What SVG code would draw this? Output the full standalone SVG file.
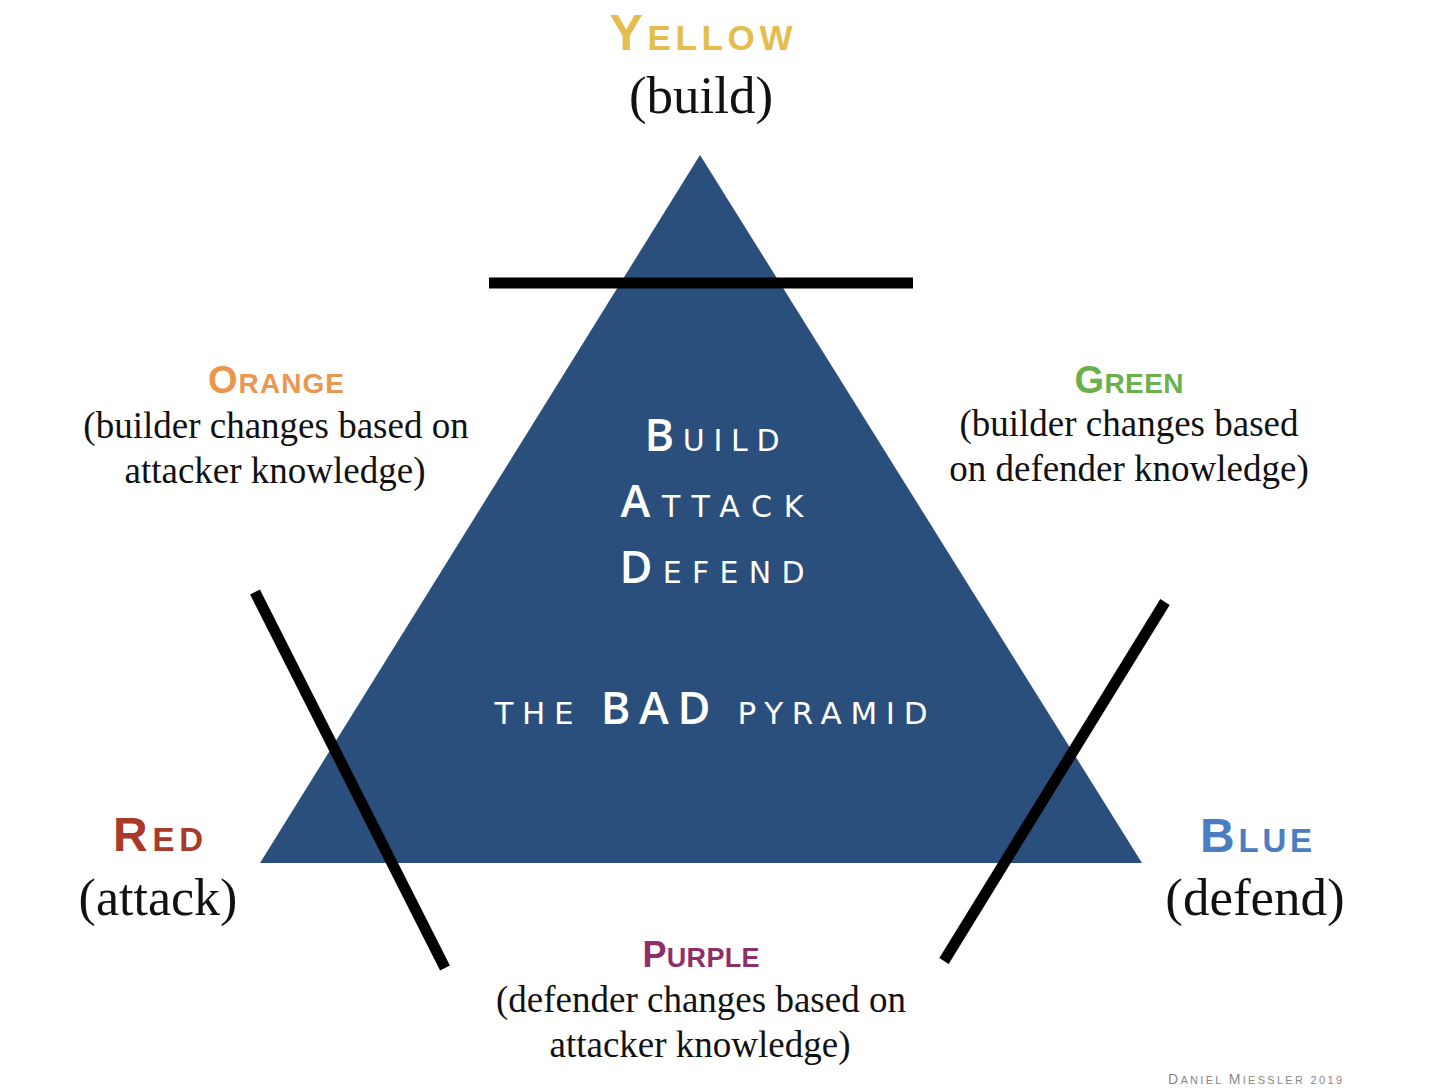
<svg xmlns="http://www.w3.org/2000/svg" width="1434" height="1088" viewBox="0 0 1434 1088">
<style>
.cap{font-family:"Liberation Sans",Arial,sans-serif;font-weight:700;text-anchor:middle}
.ser{font-family:"Liberation Serif","DejaVu Serif",serif;fill:#111;text-anchor:middle}
.in{font-family:"DejaVu Sans","Liberation Sans",sans-serif;fill:#fff;text-anchor:middle}
.ini{font-family:"Open Sans","DejaVu Sans",sans-serif;font-weight:600}
.bar{stroke:#000;stroke-width:11;stroke-linecap:butt;fill:none}
</style>
<rect width="1434" height="1088" fill="#fff"/>
<g id="pyramid">
<polygon points="700,155 1142,863 260,863" fill="#2b4f7d"/>
<text class="in" x="712" y="451" textLength="135" lengthAdjust="spacing"><tspan class="ini" font-size="45">B</tspan><tspan font-size="30">UILD</tspan></text>
<text class="in" x="712" y="517" textLength="183" lengthAdjust="spacing"><tspan class="ini" font-size="45">A</tspan><tspan font-size="30">TTACK</tspan></text>
<text class="in" x="712" y="583" textLength="185" lengthAdjust="spacing"><tspan class="ini" font-size="45">D</tspan><tspan font-size="30">EFEND</tspan></text>
<text class="in" x="711" y="724" textLength="433" lengthAdjust="spacing"><tspan font-size="31">THE </tspan><tspan class="ini" font-size="45" font-weight="700">BAD</tspan><tspan font-size="31"> PYRAMID</tspan></text>
</g>
<g id="connectors">
<line class="bar" x1="489" y1="283" x2="913" y2="283" stroke-width="10"/>
<line class="bar" x1="255" y1="592" x2="445" y2="968"/>
<line class="bar" x1="1165" y1="602" x2="944" y2="961"/>
</g>
<g id="yellow">
<text class="cap" x="701" y="50" fill="#e5bd4e" textLength="183" lengthAdjust="spacing"><tspan font-size="50">Y</tspan><tspan font-size="35">ELLOW</tspan></text>
<text class="ser" x="701" y="113" font-size="53">(build)</text>
</g>
<g id="orange">
<text class="cap" x="276" y="393" fill="#e9974c" textLength="136" lengthAdjust="spacing"><tspan font-size="38">O</tspan><tspan font-size="28">RANGE</tspan></text>
<text class="ser" x="276" y="438" font-size="37">(builder changes based on</text>
<text class="ser" x="275" y="483" font-size="37">attacker knowledge)</text>
</g>
<g id="green">
<text class="cap" x="1129" y="393" fill="#6ab04c" textLength="109" lengthAdjust="spacing"><tspan font-size="38">G</tspan><tspan font-size="28">REEN</tspan></text>
<text class="ser" x="1129" y="436" font-size="37">(builder changes based</text>
<text class="ser" x="1129" y="481" font-size="37">on defender knowledge)</text>
</g>
<g id="red">
<text class="cap" x="158" y="851" fill="#a83a2a" textLength="90" lengthAdjust="spacing"><tspan font-size="48">R</tspan><tspan font-size="33">ED</tspan></text>
<text class="ser" x="158" y="915" font-size="52">(attack)</text>
</g>
<g id="blue">
<text class="cap" x="1256" y="852" fill="#4a7dc1" textLength="112" lengthAdjust="spacing"><tspan font-size="48">B</tspan><tspan font-size="33">LUE</tspan></text>
<text class="ser" x="1255" y="915" font-size="53">(defend)</text>
</g>
<g id="purple">
<text class="cap" x="701" y="967" fill="#8c2f6a" textLength="117" lengthAdjust="spacing"><tspan font-size="36">P</tspan><tspan font-size="27">URPLE</tspan></text>
<text class="ser" x="701" y="1012" font-size="37">(defender changes based on</text>
<text class="ser" x="700" y="1057" font-size="37">attacker knowledge)</text>
</g>
<g id="credit">
<text x="1342" y="1084" fill="#888" font-family="'Liberation Sans',Arial,sans-serif" text-anchor="end" textLength="174" lengthAdjust="spacing"><tspan font-size="14">D</tspan><tspan font-size="11">ANIEL </tspan><tspan font-size="14">M</tspan><tspan font-size="11">IESSLER 2019</tspan></text>
</g>
</svg>
